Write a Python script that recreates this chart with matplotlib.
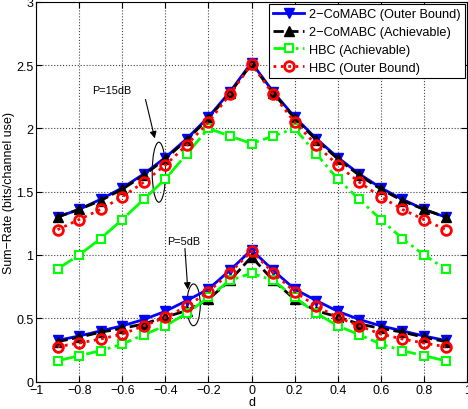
import numpy as np
import matplotlib
matplotlib.use('Agg')
import matplotlib.pyplot as plt
from matplotlib.patches import Ellipse

plt.rcParams['font.family'] = ['Liberation Sans', 'DejaVu Sans']

# distance d
d = [-0.9, -0.8, -0.7, -0.6, -0.5, -0.4, -0.3, -0.2, -0.1, 0.0,
     0.1, 0.2, 0.3, 0.4, 0.5, 0.6, 0.7, 0.8, 0.9]

# P = 15 dB
comabc_outer_15 = [1.30, 1.36, 1.44, 1.53, 1.64, 1.77, 1.92, 2.09, 2.29, 2.52,
                   2.29, 2.09, 1.92, 1.77, 1.64, 1.53, 1.44, 1.36, 1.30]
comabc_ach_15 = [1.30, 1.36, 1.43, 1.52, 1.63, 1.76, 1.91, 2.08, 2.28, 2.51,
                 2.28, 2.08, 1.91, 1.76, 1.63, 1.52, 1.43, 1.36, 1.30]
hbc_ach_15 = [0.89, 1.00, 1.13, 1.28, 1.44, 1.60, 1.80, 2.00, 1.94, 1.88,
              1.94, 2.00, 1.80, 1.60, 1.44, 1.28, 1.13, 1.00, 0.89]
hbc_outer_15 = [1.20, 1.28, 1.36, 1.46, 1.575, 1.71, 1.87, 2.05, 2.27, 2.51,
                2.27, 2.05, 1.87, 1.71, 1.575, 1.46, 1.36, 1.28, 1.20]

# P = 5 dB
comabc_outer_5 = [0.325, 0.36, 0.40, 0.44, 0.49, 0.555, 0.64, 0.73, 0.88, 1.04,
                  0.88, 0.73, 0.64, 0.555, 0.49, 0.44, 0.40, 0.36, 0.325]
comabc_ach_5 = [0.315, 0.35, 0.39, 0.42, 0.455, 0.51, 0.56, 0.65, 0.80, 0.985,
                0.80, 0.65, 0.56, 0.51, 0.455, 0.42, 0.39, 0.35, 0.315]
hbc_ach_5 = [0.164, 0.204, 0.244, 0.296, 0.37, 0.44, 0.54, 0.665, 0.80, 0.855,
             0.80, 0.665, 0.54, 0.44, 0.37, 0.296, 0.244, 0.204, 0.164]
hbc_outer_5 = [0.275, 0.304, 0.336, 0.375, 0.44, 0.507, 0.595, 0.71, 0.86, 1.03,
               0.86, 0.71, 0.595, 0.507, 0.44, 0.375, 0.336, 0.304, 0.275]

fig = plt.figure(figsize=(4.68, 4.10), dpi=100)
ax = fig.add_axes([0.077, 0.067, 0.921, 0.926])

blue = dict(color='#0000ff', ls='-', lw=2, marker='v', ms=7, mfc='#0000ff', mec='#0000ff')
black = dict(color='black', ls='--', lw=2, marker='^', ms=7, mfc='black', mec='black')
green = dict(color='#00ff00', ls='-.', lw=2, marker='s', ms=5.5, mfc='white', mec='#00ff00', mew=1.5)
red = dict(color='#ff0000', ls=':', lw=2, marker='o', ms=7, mfc='none', mec='#ff0000', mew=2)

ax.plot(d, comabc_outer_15, label='2\u2212CoMABC (Outer Bound)', **blue)
ax.plot(d, comabc_ach_15, label='2\u2212CoMABC (Achievable)', **black)
ax.plot(d, hbc_ach_15, label='HBC (Achievable)', **green)
ax.plot(d, hbc_outer_15, label='HBC (Outer Bound)', **red)

ax.plot(d, comabc_outer_5, **blue)
ax.plot(d, comabc_ach_5, **black)
ax.plot(d, hbc_ach_5, **green)
ax.plot(d, hbc_outer_5, **red)

# annotations
ax.add_patch(Ellipse((-0.43, 1.654), 0.062, 0.474, fill=False, ec='black', lw=0.8))
ax.add_patch(Ellipse((-0.269, 0.606), 0.062, 0.33, fill=False, ec='black', lw=0.8))
ax.annotate('', xy=(-0.446, 1.90), xytext=(-0.495, 2.25),
            arrowprops=dict(arrowstyle='-|>', color='black', lw=0.8))
ax.annotate('', xy=(-0.295, 0.705), xytext=(-0.31, 1.074),
            arrowprops=dict(arrowstyle='-|>', color='black', lw=0.8))
ax.text(-0.648, 2.30, 'P=15dB', fontsize=7.8, ha='center', va='center')
ax.text(-0.315, 1.113, 'P=5dB', fontsize=7.8, ha='center', va='center')

ax.set_xlim(-1, 1)
ax.set_ylim(0, 3)
ax.set_xticks(np.arange(-1, 1.01, 0.2))
ax.set_yticks(np.arange(0, 3.01, 0.5))
ax.set_xticklabels(['\u22121', '\u22120.8', '\u22120.6', '\u22120.4', '\u22120.2',
                    '0', '0.2', '0.4', '0.6', '0.8', '1'])
ax.set_yticklabels(['0', '0.5', '1', '1.5', '2', '2.5', '3'])
ax.tick_params(direction='in', labelsize=9, top=True, right=True, length=4, pad=2)
ax.grid(True, ls=':', color='#444444', lw=0.8)
ax.set_xlabel('d', fontsize=9, labelpad=0)
ax.set_ylabel('Sum\u2212Rate (bits/channel use)', fontsize=9, labelpad=1)

leg = ax.legend(loc='upper right', fontsize=9.2, fancybox=False, framealpha=1,
                edgecolor='black', borderaxespad=0.15, handlelength=2.4,
                labelspacing=0.45, borderpad=0.35, handletextpad=0.4)
leg.get_frame().set_linewidth(0.8)

fig.savefig('out.png', dpi=100)
